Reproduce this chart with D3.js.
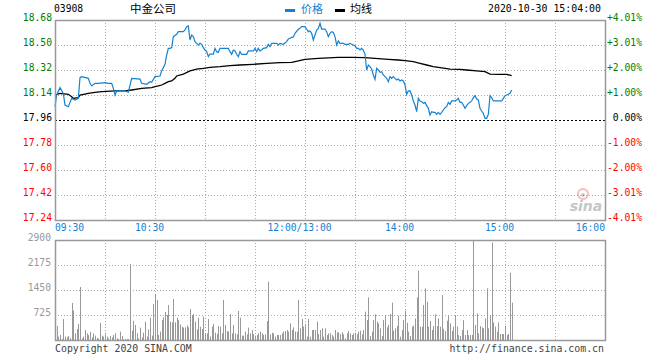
<!DOCTYPE html>
<html><head><meta charset="utf-8">
<script src="https://cdn.jsdelivr.net/npm/d3@7/dist/d3.min.js"></script>
<style>
html,body{margin:0;padding:0;background:#fff;}
svg{display:block;}
</style></head>
<body>
<svg id="chart" width="660" height="360"></svg>
<script>
// ---------- data ----------
const stockCode = "03908";
const stockName = "中金公司";
const stamp = "2020-10-30 15:04:00";
const legendNames = ["价格", "均线"];
const priceTicks = [18.68, 18.50, 18.32, 18.14, 17.96, 17.78, 17.60, 17.42, 17.24];
const pctTicks = ["+4.01%", "+3.01%", "+2.00%", "+1.00%", "0.00%", "-1.00%", "-2.00%", "-3.01%", "-4.01%"];
const prevClose = 17.96;
const volTicks = [2900, 2175, 1450, 725];
const timeLabels = ["09:30", "10:30", "12:00/13:00", "14:00", "15:00", "16:00"];
const timeLabelMinutes = [0, 60, 150, 210, 270, 330];
const gridMinutes = [30, 60, 90, 120, 150, 180, 210, 240, 270, 300];

// price line (trading minute index since 09:30, lunch removed)
const priceMinutes = [0,1,3,5,6,8,9,10,12,14,15,16,20,21,22,24,26,30,32,34,35,36,37,42,44,46,51,52,55,57,58,60,63,64,66,67,68,69,70,71,73,74,77,78,79,80,81,82,83,84,85,86,87,88,89,90,91,92,93,95,96,97,98,99,104,105,106,107,108,109,110,111,112,115,116,119,120,121,122,123,124,125,127,128,129,130,133,134,135,137,139,140,141,142,143,144,146,147,148,150,151,152,153,154,155,156,157,158,159,160,162,163,164,165,166,167,168,169,170,171,173,174,176,177,178,179,180,181,182,183,184,185,186,187,188,189,190,191,192,193,194,195,196,197,198,199,200,201,202,203,204,205,206,207,208,209,210,211,212,213,214,215,216,217,218,219,220,221,222,223,224,225,226,227,228,229,230,231,232,233,234,235,236,237,238,240,241,242,243,244,245,246,247,248,249,250,251,252,253,254,255,256,257,258,259,260,261,262,263,268,269,270,271,272,273,274];
const prices = [18.056,18.14,18.193,18.152,18.068,18.056,18.087,18.116,18.104,18.116,18.265,18.272,18.26,18.224,18.205,18.224,18.224,18.229,18.224,18.224,18.188,18.14,18.169,18.169,18.16,18.26,18.255,18.224,18.217,18.236,18.231,18.272,18.277,18.313,18.361,18.428,18.476,18.476,18.481,18.56,18.577,18.596,18.596,18.608,18.632,18.637,18.536,18.572,18.56,18.524,18.512,18.5,18.512,18.505,18.481,18.464,18.452,18.416,18.435,18.435,18.476,18.452,18.447,18.476,18.476,18.452,18.433,18.464,18.457,18.433,18.416,18.452,18.433,18.433,18.457,18.457,18.476,18.452,18.476,18.457,18.464,18.476,18.481,18.505,18.488,18.512,18.512,18.5,18.512,18.505,18.524,18.543,18.548,18.555,18.558,18.584,18.613,18.62,18.632,18.632,18.615,18.596,18.601,18.584,18.536,18.572,18.608,18.62,18.656,18.615,18.615,18.596,18.56,18.584,18.596,18.591,18.56,18.5,18.529,18.512,18.512,18.505,18.505,18.512,18.505,18.5,18.495,18.476,18.476,18.464,18.476,18.464,18.433,18.32,18.356,18.344,18.327,18.284,18.253,18.332,18.32,18.303,18.308,18.284,18.272,18.26,18.236,18.272,18.26,18.272,18.26,18.248,18.255,18.241,18.248,18.241,18.212,18.145,18.169,18.169,18.14,18.097,18.068,18.02,18.116,18.097,18.092,18.08,18.087,18.063,18.044,17.996,18.02,18.015,18.015,18.001,18.015,18.001,18.015,18.032,18.049,18.056,18.087,18.073,18.097,18.097,18.104,18.116,18.087,18.087,18.068,18.044,18.063,18.08,18.087,18.097,18.121,18.135,18.111,18.104,18.044,18.025,18.008,17.972,17.972,18.001,18.135,18.121,18.097,18.097,18.116,18.135,18.14,18.145,18.152,18.176];

// average price line
const avgMinutes = [0,3,8,10,11,14,15,20,24,28,36,42,46,52,58,60,62,64,66,68,70,72,73,77,81,85,89,93,99,105,111,119,127,135,142,146,150,158,170,178,186,192,200,206,210,215,219,223,227,231,237,243,247,253,258,261,267,271,274];
const avgPrices = [18.14,18.152,18.145,18.128,18.116,18.121,18.14,18.152,18.159,18.164,18.169,18.169,18.176,18.188,18.193,18.2,18.205,18.212,18.224,18.236,18.241,18.26,18.277,18.291,18.313,18.327,18.332,18.339,18.344,18.351,18.356,18.361,18.368,18.373,18.375,18.385,18.397,18.404,18.411,18.411,18.409,18.404,18.397,18.392,18.388,18.38,18.368,18.356,18.344,18.337,18.327,18.325,18.32,18.313,18.308,18.291,18.289,18.289,18.279];

// volume per minute (index = trading minute)
const volumes = [
100,406,97,145,30,609,97,80,116,60,
1073,851,193,319,464,1537,48,97,290,193,
145,232,77,193,125,60,40,493,126,97,
164,97,48,116,77,145,193,48,30,242,
116,20,29,30,29,2204,271,551,435,193,
48,358,77,213,532,97,309,648,126,1044,
1334,1160,145,242,580,658,812,725,1015,532,
513,1189,513,648,580,455,387,358,367,425,
367,899,725,754,532,309,648,387,319,677,
193,193,609,97,387,464,213,174,406,387,
193,1160,435,261,242,754,193,435,193,164,
841,648,126,126,242,164,358,193,290,174,
126,145,193,242,193,145,164,551,1692,164,
213,193,97,145,145,145,193,242,261,290,
242,484,290,367,242,242,1160,338,609,387,
435,
97,609,97,290,290,290,532,174,290,338,97,338,145,193,
193,145,97,290,222,222,174,222,164,48,
193,261,193,145,193,213,164,242,271,164,
290,822,580,1237,116,242,580,744,532,483,
338,116,580,725,367,435,754,1083,271,338,
406,706,97,290,580,851,503,242,116,387,
416,628,1237,2011,387,387,1015,1498,1112,387,
551,290,406,744,406,628,387,1305,319,261,
561,696,483,261,387,696,387,145,116,290,
580,145,290,145,145,145,2900,435,773,193,
406,367,338,628,1498,338,725,2823,512,387,
242,512,174,174,174,406,145,174,1953,1083];

// ---------- drawing ----------
const svg = d3.select("#chart");
const mono = "'DejaVu Sans Mono', 'Liberation Mono', monospace";
const cjk = "'Noto Sans CJK SC', sans-serif";
const L = 55, R = 605, PT = 20, PB = 220, VT = 240, VB = 340;
const frameCol = "#999", gridCol = "#aaa";
const blue = "#1482d2";

const x = d3.scaleLinear().domain([0, 330]).range([L, R]);
const y = d3.scaleLinear().domain([17.24, 18.68]).range([PB, PT]);
const yv = d3.scaleLinear().domain([0, 2900]).range([VB, VT]).clamp(true);

// grids
function vgrid(top, bottom) {
  svg.append("g").selectAll("line").data(gridMinutes).join("line")
    .attr("x1", d => x(d) + 0.5).attr("x2", d => x(d) + 0.5)
    .attr("y1", top).attr("y2", bottom)
    .attr("stroke", gridCol).attr("stroke-dasharray", "1,2");
}
vgrid(PT, PB); vgrid(VT, VB);

svg.append("g").selectAll("line").data(priceTicks.filter(d => d !== 18.68 && d !== 17.24 && d !== prevClose)).join("line")
  .attr("x1", L).attr("x2", R).attr("y1", d => Math.round(y(d)) + 0.5).attr("y2", d => Math.round(y(d)) + 0.5)
  .attr("stroke", gridCol).attr("stroke-dasharray", "1,2");
svg.append("g").selectAll("line").data(volTicks.filter(d => d !== 2900)).join("line")
  .attr("x1", L).attr("x2", R).attr("y1", d => Math.round(yv(d)) + 0.5).attr("y2", d => Math.round(yv(d)) + 0.5)
  .attr("stroke", gridCol).attr("stroke-dasharray", "1,2");

// zero line
svg.append("line").attr("x1", L).attr("x2", R)
  .attr("y1", Math.round(y(prevClose)) + 0.5).attr("y2", Math.round(y(prevClose)) + 0.5)
  .attr("stroke", "#000").attr("stroke-dasharray", "2,2");

// volume bars
svg.append("g").selectAll("line").data(volumes).join("line")
  .attr("x1", (d, i) => Math.round(x(i)) + 0.5).attr("x2", (d, i) => Math.round(x(i)) + 0.5)
  .attr("y1", VB).attr("y2", d => yv(d))
  .attr("stroke", "#999").attr("stroke-width", 1);

// sina watermark
const wm = svg.append("g").attr("opacity", 0.55);
wm.append("circle").attr("cx", 583).attr("cy", 194).attr("r", 5).attr("fill", "none").attr("stroke", "#e88").attr("stroke-width", 2);
wm.append("circle").attr("cx", 583).attr("cy", 195).attr("r", 1.8).attr("fill", "#888");
wm.append("text").attr("x", 586).attr("y", 211).attr("text-anchor", "middle")
  .attr("font-family", "'DejaVu Sans', sans-serif").attr("font-style", "italic").attr("font-weight", "bold")
  .attr("font-size", 14).attr("fill", "#999").text("sina");

// lines
const avgData = avgMinutes.map((m, i) => [m, avgPrices[i]]);
const priceData = priceMinutes.map((m, i) => [m, prices[i]]);
const lineGen = d3.line().x(d => x(d[0])).y(d => y(d[1]));
svg.append("path").datum(avgData).attr("d", lineGen)
  .attr("fill", "none").attr("stroke", "#000").attr("stroke-width", 1.3);
svg.append("path").datum(priceData).attr("d", lineGen)
  .attr("fill", "none").attr("stroke", blue).attr("stroke-width", 1.2);

// frames
function frame(top, bottom) {
  svg.append("rect").attr("x", L + 0.5).attr("y", top + 0.5).attr("width", R - L).attr("height", bottom - top)
    .attr("fill", "none").attr("stroke", frameCol).attr("stroke-width", 1.5);
}
frame(PT, PB); frame(VT, VB);

// left price labels
svg.append("g").selectAll("text").data(priceTicks).join("text")
  .attr("x", 52).attr("y", d => y(d) + 1).attr("text-anchor", "end")
  .attr("font-family", mono).attr("font-size", 9.7)
  .attr("fill", d => d > prevClose ? "#008000" : (d < prevClose ? "#ff0000" : "#000"))
  .text(d => d.toFixed(2));
// right percentage labels
svg.append("g").selectAll("text").data(pctTicks).join("text")
  .attr("x", 642).attr("y", (d, i) => y(priceTicks[i]) + 1).attr("text-anchor", "end")
  .attr("font-family", mono).attr("font-size", 9.7)
  .attr("fill", d => d.startsWith("+") ? "#008000" : (d.startsWith("-") ? "#ff0000" : "#000"))
  .text(d => d);
// volume labels
svg.append("g").selectAll("text").data(volTicks).join("text")
  .attr("x", 51).attr("y", d => yv(d) + 0.5).attr("text-anchor", "end")
  .attr("font-family", mono).attr("font-size", 9.7).attr("fill", "#999")
  .text(d => d);
// time labels
svg.append("g").selectAll("text").data(timeLabels).join("text")
  .attr("x", (d, i) => i === 0 ? x(timeLabelMinutes[i]) : (i === timeLabels.length - 1 ? x(timeLabelMinutes[i]) : x(timeLabelMinutes[i]) - 5.5))
  .attr("y", 231)
  .attr("text-anchor", (d, i) => i === 0 ? "start" : (i === timeLabels.length - 1 ? "end" : "middle"))
  .attr("font-family", mono).attr("font-size", 9.7).attr("fill", blue)
  .text(d => d);

// header
svg.append("text").attr("x", 54).attr("y", 12).attr("font-family", mono).attr("font-size", 9.7).attr("fill", "#000").text(stockCode);
svg.append("text").attr("x", 130).attr("y", 13).attr("font-family", cjk).attr("font-size", 11.5).attr("fill", "#000").text(stockName);
svg.append("rect").attr("x", 285).attr("y", 9).attr("width", 10).attr("height", 3).attr("fill", blue);
svg.append("text").attr("x", 301).attr("y", 13).attr("font-family", cjk).attr("font-size", 11).attr("fill", blue).text(legendNames[0]);
svg.append("rect").attr("x", 335).attr("y", 9).attr("width", 10).attr("height", 3).attr("fill", "#000");
svg.append("text").attr("x", 350).attr("y", 13).attr("font-family", cjk).attr("font-size", 11).attr("fill", "#000").text(legendNames[1]);
svg.append("text").attr("x", 601).attr("y", 12).attr("text-anchor", "end").attr("font-family", mono).attr("font-size", 9.9).attr("fill", "#000").text(stamp);

// footer
svg.append("text").attr("x", 55).attr("y", 352).attr("font-family", mono).attr("font-size", 9.9).attr("fill", "#444").text("Copyright 2020 SINA.COM");
svg.append("text").attr("x", 604).attr("y", 352).attr("text-anchor", "end").attr("font-family", mono).attr("font-size", 9.9).attr("fill", "#444").text("http://finance.sina.com.cn");
</script>
</body></html>
